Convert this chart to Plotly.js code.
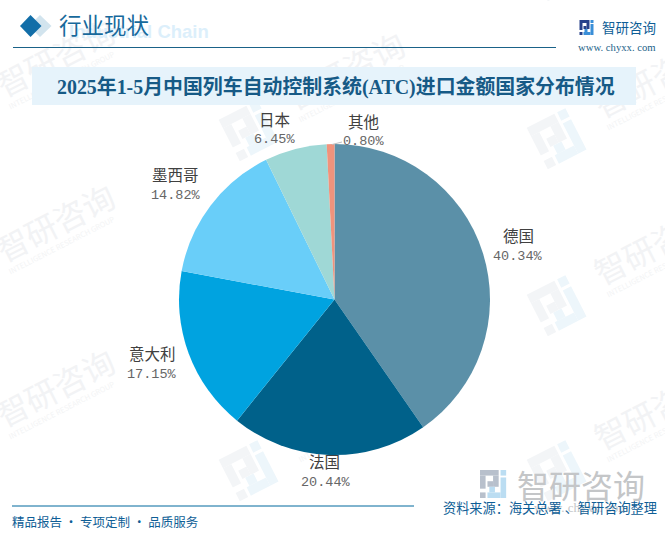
<!DOCTYPE html>
<html><head><meta charset="utf-8">
<script src="https://cdn.plot.ly/plotly-3.0.1.min.js"></script>
<style>html,body{margin:0;padding:0;background:#fff;overflow:hidden}</style></head>
<body><div id="c" style="width:665px;height:534px"></div>
<script>
var countries=["德国","法国","意大利","墨西哥","日本","其他"];
var shares=[40.34,20.44,17.15,14.82,6.45,0.80];
var sliceColors=["#5B90A8","#00618A","#00A3E0","#69CEF9","#9FD8D6","#F0937C"];
var labelCentres=[[518,235],[324,461],[152,353],[175.5,174],[274,118.5],[363,120.5]];
var chartTitle="2025年1-5月中国列车自动控制系统(ATC)进口金额国家分布情况";
var W=665,H=534;
var X=function(p){return p/W},Y=function(p){return 1-p/H};
var CJK='"Noto Sans CJK SC","Noto Sans",sans-serif';
var SERIF='"Liberation Serif","Noto Sans CJK SC",serif';
var ann=[],shapes=[];
function text(t,x,y,size,color,font,weight){
  ann.push({text:t,x:X(x),y:Y(y),xref:'paper',yref:'paper',showarrow:false,xanchor:'center',yanchor:'middle',
    font:{size:size,color:color,family:font||CJK,weight:weight||400}});
}
function poly(pts,fill,layer){
  shapes.push({type:'path',xref:'paper',yref:'paper',layer:layer||'above',line:{width:0},fillcolor:fill,
    path:'M'+pts.map(function(p){return X(p[0])+','+Y(p[1])}).join('L')+'Z'});
}
function rect(x0,y0,x1,y1,fill,layer){
  shapes.push({type:'rect',xref:'paper',yref:'paper',layer:layer||'above',line:{width:0},fillcolor:fill,
    x0:X(x0),x1:X(x1),y0:Y(y1),y1:Y(y0)});
}
// the brand mark, built from blocks in a 15x15 unit box
var markA=[[0,0,10,3],[0,3,3,10],[7,3,10,9],[4,6,7,9],[0,12,3,15]];
var markB=[[11,0,14,3],[11,4,14,15],[4,12,11,15],[5,9,8,12]];
function mark(cx,cy,s,deg,ca,cb,layer){
  var t=deg*Math.PI/180,c=Math.cos(t),n=Math.sin(t);
  function draw(list,col){list.forEach(function(b){
    poly([[b[0],b[1]],[b[2],b[1]],[b[2],b[3]],[b[0],b[3]]].map(function(p){
      var u=(p[0]-7.5)*s,v=(p[1]-7.5)*s;return [cx+u*c-v*n,cy+u*n+v*c];
    }),col,layer);
  });}
  draw(markA,ca);draw(markB,cb);
}
function wmText(x,y,size,s,col){
  shapes.push({type:'rect',xref:'paper',yref:'paper',layer:'below',line:{width:0},fillcolor:'rgba(0,0,0,0)',
    x0:X(x-70),x1:X(x+70),y0:Y(y+20),y1:Y(y-20),
    label:{text:s,textangle:-27,textposition:'middle center',font:{size:size,color:col,family:CJK}}});
}
// watermark tiles: mark centre; name sits up and to the right of it
[[-40,117],[-40,282],[-40,447],[250,130],[250,300],[250,470],[558,138],[558,305],[558,470],[558,-30],[250,-35]].forEach(function(p){
  mark(p[0],p[1],3.1,-27,'#F3F5F7','#EDF6FB','below');
  wmText(p[0]+97,p[1]-56,32,'智研咨询','#F2F3F5');
  wmText(p[0]+102,p[1]-36,7.5,'INTELLIGENCE RESEARCH GROUP','#F3F4F5');
});
// header
rect(32,67,636,105,'#E6F3FB','below');
text('Industrial Chain',139,31,18.5,'#DCEFFB','"Liberation Sans",Arial,sans-serif',700);
poly([[40,15],[51.5,26],[40,37],[29,26]],'#D2E4EE');
poly([[30.5,15],[41.5,26],[30.5,37],[20,26]],'#126EA8');
text('行业现状',104,26,22.5,'#17699C',SERIF);
shapes.push({type:'line',xref:'paper',yref:'paper',x0:X(13),x1:X(556),y0:Y(47.5),y1:Y(47.5),line:{color:'#1A6288',width:1.2}});
// logo
mark(587,27.5,1,0,'#27418A','#3A8FD8');
text('智研咨询',628.5,27,13.5,'#0E5E96',CJK);
text('www. chyxx. com',616.5,47,10.7,'#1A6288','"Liberation Serif",serif');
// title
text(chartTitle,335.5,87,19.9,'#165A86',SERIF,700);
// pie labels
countries.forEach(function(n,i){
  var c=labelCentres[i];
  text(n,c[0],c[1],15.5,'#404040',CJK);
  text(shares[i].toFixed(2)+'%',c[0]+(i===1?1.5:0),c[1]+21,13.5,'#666666','"Liberation Mono",monospace');
});
shapes.push({type:'line',xref:'paper',yref:'paper',x0:X(332),x1:X(342),y0:Y(144.5),y1:Y(142),line:{color:'#BFBFBF',width:1}});
// footer
mark(494,484,1.87,0,'#B8C0CC','#BBDDF2');
text('智研咨询',581,484,32,'#C4C6C8',CJK);
text('www. chyxx. com',581,507,13,'#C4C6C8','"Liberation Serif",serif');
shapes.push({type:'line',xref:'paper',yref:'paper',x0:X(12),x1:X(414),y0:Y(506),y1:Y(506),line:{color:'#00689D',width:1}});
text('精品报告 · 专项定制 · 品质服务',105,521,12.5,'#0E5E96',CJK);
text('资料来源：海关总署 、智研咨询整理',549.5,507,13.2,'#0E5E96',CJK);

Plotly.newPlot('c',[{type:'pie',labels:countries,values:shares,sort:false,direction:'clockwise',rotation:0,
  marker:{colors:sliceColors,line:{width:0}},textinfo:'none',hoverinfo:'label+percent',
  domain:{x:[X(179),X(490)],y:[Y(455),Y(144)]}}],
  {width:W,height:H,margin:{l:0,r:0,t:0,b:0},paper_bgcolor:'#fff',showlegend:false,shapes:shapes,annotations:ann},
  {displayModeBar:false,staticPlot:true});
</script></body></html>
